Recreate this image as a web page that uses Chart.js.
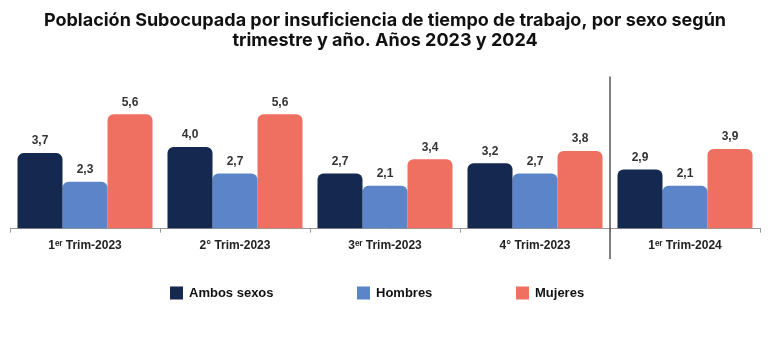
<!DOCTYPE html>
<html>
<head>
<meta charset="utf-8">
<script src="https://cdn.jsdelivr.net/npm/chart.js@4/dist/chart.umd.min.js"></script>
<style>
  html, body { margin: 0; padding: 0; background: #fff; }
  #wrap { width: 770px; height: 339px; }
</style>
</head>
<body>
<div id="wrap"><canvas id="subChart" width="770" height="339"></canvas></div>
<script>
// Datos
const trimestres = ['1ᵉʳ Trim-2023', '2° Trim-2023', '3ᵉʳ Trim-2023', '4° Trim-2023', '1ᵉʳ Trim-2024'];
const ambosSexos = [3.7, 4.0, 2.7, 3.2, 2.9];
const hombres = [2.3, 2.7, 2.1, 2.7, 2.1];
const mujeres = [5.6, 5.6, 3.4, 3.8, 3.9];

const fmt = v => v.toFixed(1).replace('.', ',');

// etiquetas encima de cada barra
const valueLabels = {
    id: 'valueLabels',
    afterDatasetsDraw(chart) {
        const ctx = chart.ctx;
        ctx.save();
        ctx.font = 'bold 12px "Liberation Sans", Arial, sans-serif';
        ctx.fillStyle = '#333';
        ctx.textAlign = 'center';
        ctx.textBaseline = 'bottom';
        chart.data.datasets.forEach((ds, i) => {
            chart.getDatasetMeta(i).data.forEach((bar, j) => {
                ctx.fillText(fmt(ds.data[j]), bar.x, bar.y - 6);
            });
        });
        ctx.restore();
    }
};

// línea vertical entre 2023 y 2024 + leyenda
const extras = {
    id: 'extras',
    afterDraw(chart) {
        const ctx = chart.ctx;
        const x = chart.scales.x;
        const sepX = (x.getPixelForValue(3) + x.getPixelForValue(4)) / 2;
        ctx.save();
        ctx.strokeStyle = '#555';
        ctx.lineWidth = 1.5;
        ctx.beginPath();
        ctx.moveTo(sepX, chart.chartArea.top + 1);
        ctx.lineTo(sepX, x.bottom);
        ctx.stroke();

        // leyenda
        const legendX = [170, 357, 516];
        const legendY = 293;
        ctx.font = 'bold 13px "Liberation Sans", Arial, sans-serif';
        ctx.textBaseline = 'middle';
        ctx.textAlign = 'left';
        chart.data.datasets.forEach((ds, i) => {
            ctx.fillStyle = ds.backgroundColor;
            ctx.fillRect(legendX[i], legendY - 6.5, 13, 13);
            ctx.fillStyle = '#111';
            ctx.fillText(ds.label, legendX[i] + 19, legendY + 0.5);
        });
        ctx.restore();
    }
};

new Chart(document.getElementById('subChart'), {
    type: 'bar',
    data: {
        labels: trimestres,
        datasets: [
            { label: 'Ambos sexos', data: ambosSexos, backgroundColor: '#15284f' },
            { label: 'Hombres', data: hombres, backgroundColor: '#5b85c8' },
            { label: 'Mujeres', data: mujeres, backgroundColor: '#ef6f61' }
        ]
    },
    options: {
        responsive: false,
        animation: false,
        layout: { padding: { left: 10, right: 10, top: 0, bottom: 80 } },
        datasets: {
            bar: {
                categoryPercentage: 0.9,
                barPercentage: 1.0,
                borderRadius: { topLeft: 6, topRight: 6 },
                borderSkipped: 'bottom'
            }
        },
        plugins: {
            legend: { display: false },
            tooltip: { enabled: false },
            title: {
                display: true,
                text: ['Población Subocupada por insuficiencia de tiempo de trabajo, por sexo según',
                       'trimestre y año. Años 2023 y 2024'],
                color: '#111',
                font: { family: 'Inter, "Open Sans", sans-serif', size: 18, weight: 'bold', lineHeight: 1.1 },
                padding: { top: 11, bottom: 25 }
            }
        },
        scales: {
            x: {
                grid: {
                    display: true,
                    drawOnChartArea: false,
                    drawTicks: true,
                    tickLength: 4,
                    color: '#999',
                    offset: true
                },
                border: { display: true, color: '#999', width: 1 },
                ticks: {
                    color: '#222',
                    padding: 6,
                    font: { family: '"Liberation Sans", Arial, sans-serif', size: 12, weight: 'bold' }
                }
            },
            y: {
                display: false,
                beginAtZero: true,
                min: 0,
                max: 7.5
            }
        }
    },
    plugins: [valueLabels, extras]
});
</script>
</body>
</html>
